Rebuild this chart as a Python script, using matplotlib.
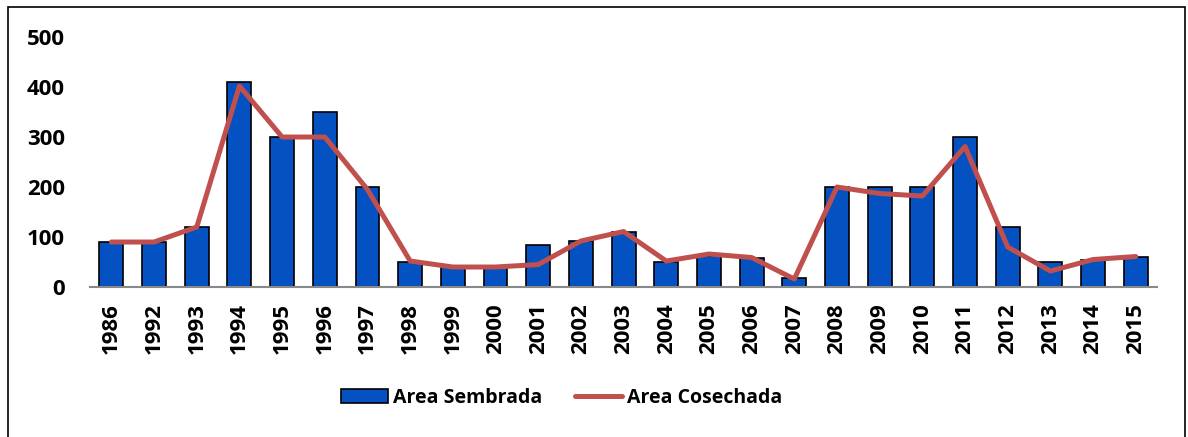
import matplotlib.pyplot as plt
from matplotlib.patches import Rectangle
import numpy as np

years = ['1986', '1992', '1993', '1994', '1995', '1996', '1997', '1998', '1999',
         '2000', '2001', '2002', '2003', '2004', '2005', '2006', '2007', '2008',
         '2009', '2010', '2011', '2012', '2013', '2014', '2015']
sembrada = [90, 90, 120, 410, 300, 350, 200, 50, 40, 40, 85, 92, 111, 51, 62, 59,
            18, 200, 200, 200, 300, 120, 51, 54, 61]
cosechada = [90, 90, 120, 402, 300, 300, 195, 52, 40, 40, 45, 92, 111, 52, 66, 59,
             16, 200, 187, 182, 281, 80, 32, 55, 61]

plt.rcParams['font.family'] = ['Open Sans', 'DejaVu Sans']

fig = plt.figure(figsize=(11.88, 4.37), dpi=100)
ax = fig.add_axes([0.0758, 0.3432, 0.8982, 0.5721])

x = np.arange(len(years))
bars = ax.bar(x, sembrada, width=0.56, color='#0451C1', edgecolor='black',
              linewidth=1.2, label='Area Sembrada', zorder=2)
line, = ax.plot(x, cosechada, color='#C0504D', linewidth=3.6,
                label='Area Cosechada', solid_capstyle='round', zorder=3)

ax.set_xlim(-0.5, len(years) - 0.5)
ax.set_ylim(0, 500)
ax.set_yticks([0, 100, 200, 300, 400, 500])
ax.set_xticks(x)
ax.set_xticklabels(years, rotation=90)
for lab in ax.get_xticklabels() + ax.get_yticklabels():
    lab.set_fontsize(16)
    lab.set_fontweight('bold')
ax.tick_params(axis='y', length=0, pad=18)
ax.tick_params(axis='x', length=0, pad=11.5)

for s in ['top', 'right', 'left']:
    ax.spines[s].set_visible(False)
ax.spines['bottom'].set_color('#898989')
ax.spines['bottom'].set_linewidth(1.5)

fig.legend([bars, line], ['Area Sembrada', 'Area Cosechada'], loc='center',
           bbox_to_anchor=(0.473, 0.089), ncol=2, frameon=False,
           prop={'size': 14, 'weight': 'bold'}, handlelength=2.4,
           handletextpad=0.27, columnspacing=1.7)

# frame around the whole chart
fig.patches.append(Rectangle((8 / 1188, -0.05), 1177 / 1188, 1 - 7 / 437 + 0.05,
                             transform=fig.transFigure, fill=False,
                             edgecolor='black', linewidth=1.2))

fig.savefig('out.png', dpi=100)
